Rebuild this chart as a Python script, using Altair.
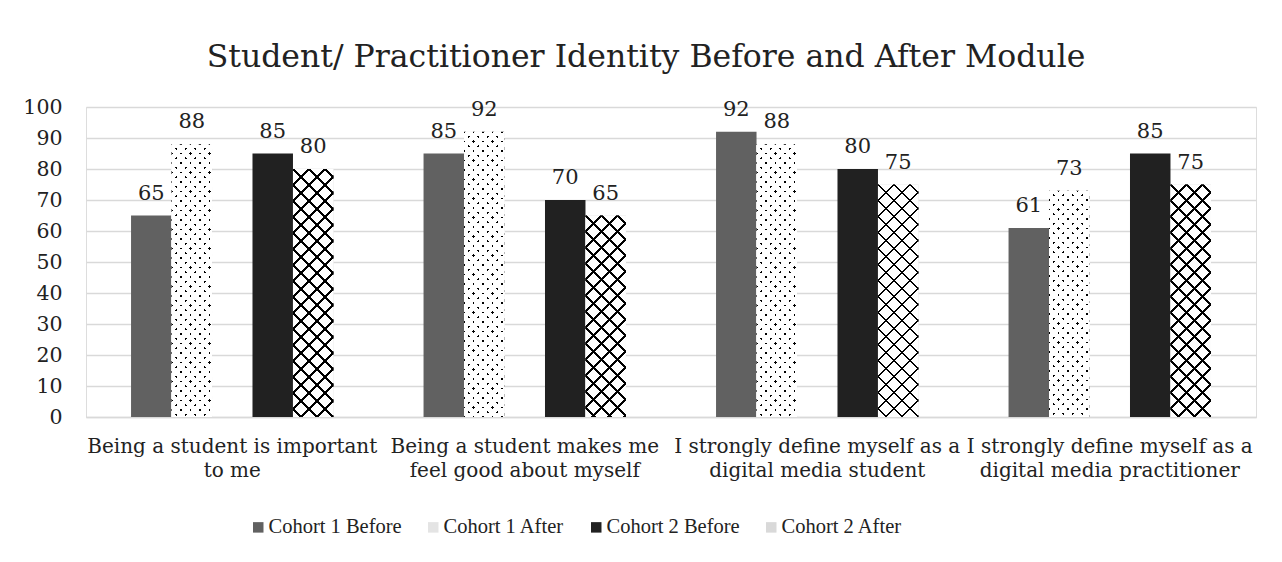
import math
import altair as alt
import pandas as pd

# ---------------- data ----------------
categories = [
    "Being a student is important to me",
    "Being a student makes me feel good about myself",
    "I strongly define myself as a digital media student",
    "I strongly define myself as a digital media practitioner",
]
category_lines = [
    ["Being a student is important", "to me"],
    ["Being a student makes me", "feel good about myself"],
    ["I strongly define myself as a", "digital media student"],
    ["I strongly define myself as a", "digital media practitioner"],
]
series = ["Cohort 1 Before", "Cohort 1 After", "Cohort 2 Before", "Cohort 2 After"]
cohort1_before = [65, 85, 92, 61]
cohort1_after = [88, 92, 88, 73]
cohort2_before = [85, 70, 80, 85]
cohort2_after = [80, 65, 75, 75]
y_ticks = [0, 10, 20, 30, 40, 50, 60, 70, 80, 90, 100]
title_text = "Student/ Practitioner Identity Before and After Module"

series_values = {
    series[0]: cohort1_before,
    series[1]: cohort1_after,
    series[2]: cohort2_before,
    series[3]: cohort2_after,
}
rows = []
for s in series:
    for i, c in enumerate(categories):
        rows.append({"category": c, "series": s, "value": series_values[s][i]})
df = pd.DataFrame(rows)

# ---------------- layout / style ----------------
FONT = "DejaVu Serif"
LEGEND_FONT = "Liberation Serif"
TEXT_COLOR = "#222222"
GRID_COLOR = "#d9d9d9"
W_PLOT, H_PLOT = 1170, 310
PAD_IN, PAD_OUT = 0.308, 0.154
Y_MAX = 100
offset_domain = [series[0], series[1], "gap", series[2], series[3]]
step = W_PLOT / (len(categories) - PAD_IN + 2 * PAD_OUT)
bar_w = step * (1 - PAD_IN) / len(offset_domain)

legend_colors = ["#616161", "#e4e4e4", "#212121", "#d9d9d9"]

label_expr = ""
for c, lines in zip(categories, category_lines):
    arr = "[" + ",".join("'" + l + "'" for l in lines) + "]"
    label_expr += "datum.value == '" + c + "' ? " + arr + " : "
label_expr += "datum.label"

x_enc = alt.X(
    "category:N",
    sort=categories,
    scale=alt.Scale(domain=categories, paddingInner=PAD_IN, paddingOuter=PAD_OUT),
    axis=alt.Axis(
        title=None,
        labelExpr=label_expr,
        labelAngle=0,
        labelLimit=0,
        labelFontSize=20,
        labelLineHeight=24,
        labelPadding=19,
        labelColor=TEXT_COLOR,
        labelFont=FONT,
        ticks=False,
        domain=True,
        domainColor=GRID_COLOR,
        domainWidth=1.5,
    ),
)
xo_enc = alt.XOffset(
    "series:N",
    scale=alt.Scale(domain=offset_domain, paddingInner=0, paddingOuter=0),
)
y_enc = alt.Y(
    "value:Q",
    scale=alt.Scale(domain=[0, Y_MAX], nice=False),
    axis=alt.Axis(
        title=None,
        values=y_ticks,
        labelFontSize=20.5,
        labelPadding=24,
        labelColor=TEXT_COLOR,
        labelFont=FONT,
        ticks=False,
        domain=False,
        grid=True,
        gridColor=GRID_COLOR,
        gridWidth=1.5,
    ),
)

base = alt.Chart(df)

bars = base.mark_bar().encode(
    x=x_enc,
    xOffset=xo_enc,
    y=y_enc,
    color=alt.Color(
        "series:N",
        scale=alt.Scale(domain=series, range=legend_colors),
        legend=alt.Legend(
            title=None,
            orient="none",
            direction="horizontal",
            legendX=162,
            legendY=410,
            symbolType="square",
            symbolSize=110,
            symbolStrokeWidth=0,
            labelFontSize=20.5,
            labelFont=LEGEND_FONT,
            labelColor=TEXT_COLOR,
            labelOffset=0,
            columnPadding=21,
        ),
    ),
)


def stripe_fill(alpha, beta, W, H, half, line_c, bg_c, reverse):
    """Linear gradient (bbox units) whose hard stops draw slanted stripes
    lying along lines alpha*x +/- beta*y = integer in pixel space."""
    D = alpha * W + beta * H
    gx, gy = alpha * W / D, beta * H / D
    n2 = gx * gx + gy * gy
    if not reverse:
        x1, y1, x2, y2 = 0, 0, gx / n2, gy / n2
        phase = 0.0
    else:
        x1, y1, x2, y2 = 0, 1, gx / n2, 1 - gy / n2
        phase = (beta * H) % 1.0
    centers = []
    k = -2
    while phase + k - half <= D:
        c = phase + k
        if c + half >= 0:
            centers.append(c)
        k += 1
    stops = []
    pos = 0.0
    for c in centers:
        a, b = max(c - half, 0.0), min(c + half, D)
        if a > pos:
            stops += [(pos, bg_c), (a, bg_c)]
        stops += [(a, line_c), (b, line_c)]
        pos = b
    if pos < D:
        stops += [(pos, bg_c), (D, bg_c)]
    return {
        "gradient": "linear",
        "x1": x1, "y1": y1, "x2": x2, "y2": y2,
        "stops": [{"offset": round(s / D, 5), "color": col} for s, col in stops],
    }


CLEAR = "rgba(255,255,255,0)"
patterns = {
    # (alpha, beta, half-width, kind)
    series[1]: (1 / 9.5, 1 / 9.5, 0.13, "dots"),      # dotted: lines ∩ lines
    series[3]: (1 / 16.0, 1 / 16.0, 0.068, "cross"),  # crosshatch: lines ∪ lines
}

pattern_layers = []
for s in (series[1], series[3]):
    alpha, beta, half, kind = patterns[s]
    for i, c in enumerate(categories):
        v = series_values[s][i]
        H = v * H_PLOT / Y_MAX
        sel = base.transform_filter(
            (alt.datum.category == c) & (alt.datum.series == s)
        )
        if kind == "dots":
            f1 = stripe_fill(alpha, beta, bar_w, H, half, "#000000", "#ffffff", False)
            f2 = stripe_fill(alpha, beta, bar_w, H, half, CLEAR, "#ffffff", True)
        else:
            f1 = stripe_fill(alpha, beta, bar_w, H, half, "#000000", "#ffffff", False)
            f2 = stripe_fill(alpha, beta, bar_w, H, half, "#000000", CLEAR, True)
        for f in (f1, f2):
            pattern_layers.append(
                sel.mark_bar(fill=f, strokeWidth=0).encode(x=x_enc, xOffset=xo_enc, y=y_enc)
            )

labels = base.mark_text(
    baseline="alphabetic", dy=-16, fontSize=21, font=FONT, color=TEXT_COLOR
).encode(x=x_enc, xOffset=xo_enc, y=y_enc, text=alt.Text("value:Q"))

chart = (
    alt.layer(bars, *pattern_layers, labels)
    .properties(
        width=W_PLOT,
        height=H_PLOT,
        autosize=alt.AutoSizeParams(type="none"),
        padding={"left": 78, "top": 99, "right": 18, "bottom": 137},
        title=alt.TitleParams(
            text=title_text,
            font=FONT,
            fontSize=31.5,
            fontWeight="normal",
            color=TEXT_COLOR,
            anchor="middle",
            frame="group",
            dx=-25,
            baseline="alphabetic",
            offset=-1,
        ),
    )
    .configure_view(stroke=None)
    .configure(background="white")
)

chart.save("out.html", embed_options={"renderer": "svg", "actions": False})
